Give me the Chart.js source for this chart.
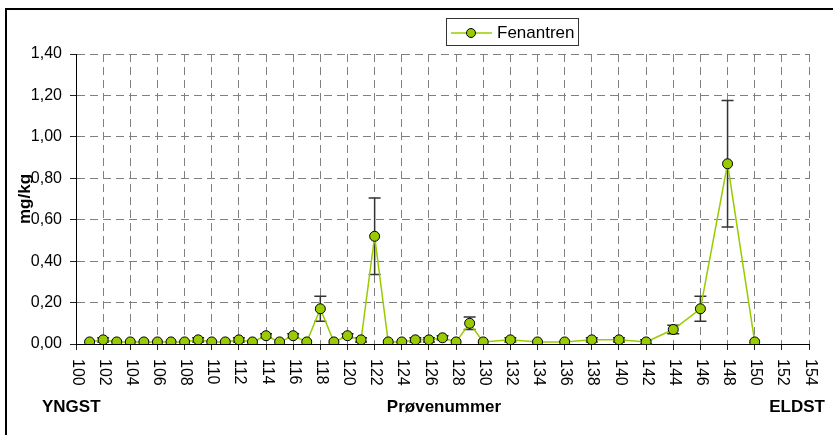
<!DOCTYPE html>
<html>
<head>
<meta charset="utf-8">
<script src="https://cdn.jsdelivr.net/npm/chart.js@4.4.1/dist/chart.umd.min.js"></script>
<style>
  body { margin: 0; background: #fff; }
  #wrap { width: 833px; height: 435px; }
</style>
</head>
<body>
<div id="wrap"><canvas id="chart" width="833" height="435"></canvas></div>
<script>
// sample numbers (x) and measured values
var sampleNo = [101, 102, 103, 104, 105, 106, 107, 108, 109, 110,
                111, 112, 113, 114, 115, 116, 117, 118, 119, 120,
                121, 122, 123, 124, 125, 126, 127, 128, 129, 130,
                132, 134, 136, 138, 140, 142, 144, 146, 148, 150];
var fenantren = [0.01, 0.02, 0.01, 0.01, 0.01, 0.01, 0.01, 0.01, 0.02, 0.01,
                 0.01, 0.02, 0.01, 0.04, 0.01, 0.04, 0.01, 0.17, 0.01, 0.04,
                 0.02, 0.52, 0.01, 0.01, 0.02, 0.02, 0.03, 0.01, 0.10, 0.01,
                 0.02, 0.01, 0.01, 0.02, 0.02, 0.01, 0.07, 0.17, 0.87, 0.01];
var errorBars = [0, 0.01, 0, 0, 0, 0, 0, 0, 0.01, 0,
                 0, 0.01, 0, 0.01, 0, 0.01, 0, 0.06, 0, 0.01,
                 0.01, 0.185, 0, 0, 0.01, 0.01, 0.01, 0, 0.03, 0,
                 0.01, 0, 0, 0.01, 0.01, 0.01, 0.02, 0.06, 0.305, 0];
var seriesName = 'Fenantren';
var xTitle = 'Prøvenummer';
var yTitle = 'mg/kg';
var leftNote = 'YNGST';
var rightNote = 'ELDST';

var green = '#99CC00';
var fontFam = "'Liberation Sans', Arial, sans-serif";
Chart.defaults.font.family = fontFam;

var points = [];
for (var i = 0; i < sampleNo.length; i++) {
    points.push({ x: sampleNo[i], y: fenantren[i] });
}

var extras = {
    id: 'extras',
    beforeDraw: function(chart) {
        var ctx = chart.ctx;
        ctx.save();
        ctx.fillStyle = '#fff';
        ctx.fillRect(0, 0, chart.width, chart.height);
        ctx.strokeStyle = '#000';
        ctx.lineWidth = 2;
        ctx.beginPath();
        ctx.moveTo(6, 445);
        ctx.lineTo(6, 9);
        ctx.lineTo(845, 9);
        ctx.stroke();
        ctx.restore();
    },
    beforeDatasetsDraw: function(chart) {
        var ctx = chart.ctx;
        var xs = chart.scales.x, ys = chart.scales.y;
        ctx.save();
        ctx.strokeStyle = '#333';
        ctx.lineWidth = 1.5;
        for (var i = 0; i < sampleNo.length; i++) {
            if (!errorBars[i]) continue;
            var px = xs.getPixelForValue(sampleNo[i]);
            var top = ys.getPixelForValue(fenantren[i] + errorBars[i]);
            var bot = ys.getPixelForValue(Math.max(0, fenantren[i] - errorBars[i]));
            ctx.beginPath();
            ctx.moveTo(px, top); ctx.lineTo(px, bot);
            ctx.moveTo(px - 6, top); ctx.lineTo(px + 6, top);
            ctx.moveTo(px - 6, bot); ctx.lineTo(px + 6, bot);
            ctx.stroke();
        }
        ctx.restore();
    },
    afterDraw: function(chart) {
        var ctx = chart.ctx;
        var xs = chart.scales.x;
        ctx.save();
        // x tick labels, reading top to bottom
        ctx.fillStyle = '#000';
        ctx.font = '16px ' + fontFam;
        ctx.textAlign = 'left';
        ctx.textBaseline = 'middle';
        xs.ticks.forEach(function(t) {
            var px = xs.getPixelForValue(t.value);
            ctx.save();
            ctx.translate(px + 1, chart.chartArea.bottom + 15);
            ctx.rotate(Math.PI / 2);
            ctx.fillText(String(t.value), 0, 0);
            ctx.restore();
        });
        // axis titles
        ctx.font = 'bold 17px ' + fontFam;
        ctx.save();
        ctx.translate(25, 199);
        ctx.rotate(-Math.PI / 2);
        ctx.textAlign = 'center';
        ctx.fillText(yTitle, 0, 0);
        ctx.restore();
        ctx.textAlign = 'center';
        ctx.fillText(xTitle, 444, 407);
        ctx.textAlign = 'left';
        ctx.fillText(leftNote, 42, 407);
        ctx.textAlign = 'right';
        ctx.fillText(rightNote, 825, 407);
        // legend
        ctx.fillStyle = '#fff';
        ctx.fillRect(446, 18, 132, 27);
        ctx.strokeStyle = '#333';
        ctx.lineWidth = 1;
        ctx.strokeRect(446.5, 18.5, 132, 27);
        ctx.strokeStyle = green;
        ctx.lineWidth = 1.5;
        ctx.beginPath(); ctx.moveTo(451, 33); ctx.lineTo(492, 33); ctx.stroke();
        ctx.beginPath(); ctx.arc(471, 33, 4.5, 0, Math.PI * 2);
        ctx.fillStyle = green; ctx.fill();
        ctx.strokeStyle = '#000'; ctx.lineWidth = 1; ctx.stroke();
        ctx.fillStyle = '#000';
        ctx.font = '17px ' + fontFam;
        ctx.textAlign = 'left';
        ctx.textBaseline = 'middle';
        ctx.fillText(chart.data.datasets[0].label, 497, 33);
        ctx.restore();
    }
};

var ctx = document.getElementById('chart');
var chart = new Chart(ctx, {
    type: 'line',
    data: {
        datasets: [{
            label: seriesName,
            data: points,
            borderColor: green,
            borderWidth: 1.5,
            backgroundColor: green,
            pointBackgroundColor: green,
            pointBorderColor: '#000',
            pointBorderWidth: 1,
            pointRadius: 5,
            tension: 0
        }]
    },
    options: {
        responsive: false,
        animation: false,
        devicePixelRatio: 1,
        layout: { padding: { left: 0, top: 54, right: 24, bottom: 0 } },
        plugins: { legend: { display: false }, tooltip: { enabled: false } },
        scales: {
            x: {
                type: 'linear',
                min: 100,
                max: 154,
                afterFit: function(scale) { scale.height = 91; },
                ticks: { stepSize: 2, autoSkip: false, color: 'rgba(0,0,0,0)', maxRotation: 0, font: { size: 16 } },
                grid: { color: '#808080', lineWidth: 1, tickLength: 6, tickColor: '#222' },
                border: { color: '#000', width: 1, dash: [8, 5] }
            },
            y: {
                min: 0,
                max: 1.4,
                afterFit: function(scale) { scale.width = 76; },
                ticks: {
                    stepSize: 0.2,
                    padding: 8,
                    color: '#000',
                    font: { size: 16 },
                    callback: function(v) { return v.toFixed(2).replace('.', ','); }
                },
                grid: { color: '#808080', lineWidth: 1, tickLength: 6, tickColor: '#222' },
                border: { color: '#000', width: 1, dash: [8, 5] }
            }
        }
    },
    plugins: [extras]
});
</script>
</body>
</html>
